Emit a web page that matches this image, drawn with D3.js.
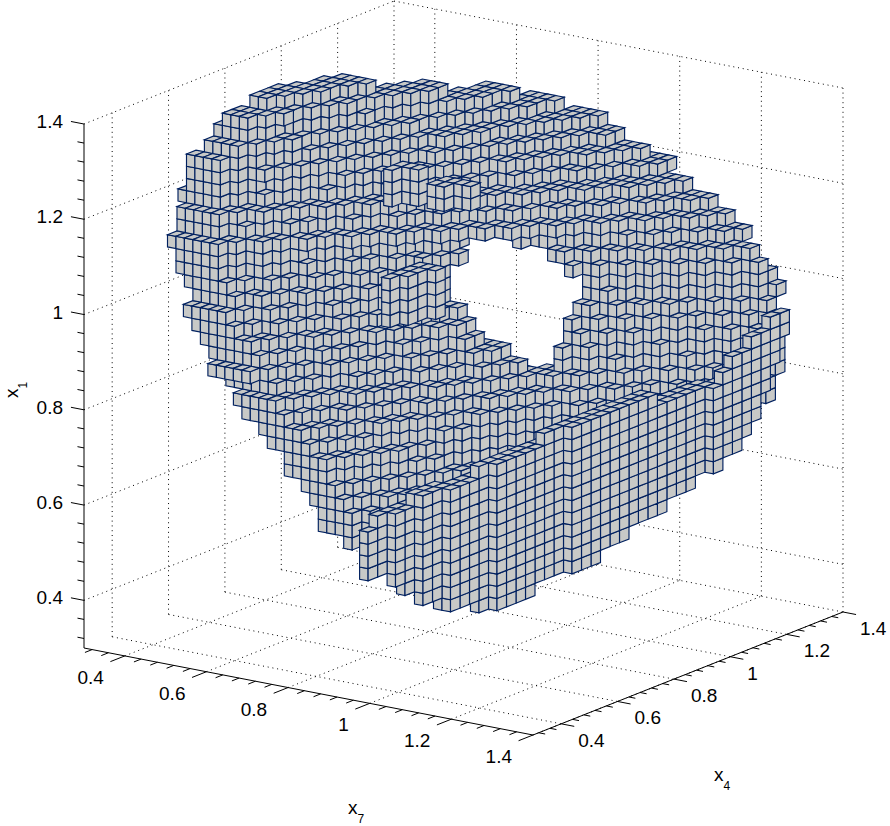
<!DOCTYPE html>
<html><head><meta charset="utf-8">
<style>html,body{margin:0;padding:0;background:#fff}svg{display:block}text{font-family:"Liberation Sans",Arial,sans-serif;fill:#000}</style>
<script src="https://cdn.jsdelivr.net/npm/d3@7"></script></head><body><div id="c"></div>
<script>
// axis ranges and ticks
const axisRange=[0.3,1.4];
const majorTicks=[0.4,0.6,0.8,1,1.2,1.4];
const minorTicks=[0.32,0.36,0.44,0.48,0.52,0.56,0.64,0.68,0.72,0.76,0.84,0.88,0.92,0.96,1.04,1.08,1.12,1.16,1.24,1.28,1.32,1.36];
const tickLabels=["0.4","0.6","0.8","1","1.2","1.4"];
// contour reading units along x7 and x4, voxel size along x7, x4, x1
const readX7=0.0147, readX4=0.0355;
const cellX7=0.0208, cellX4=0.0337, cellX1=0.0256;
// surface contours read per x1 layer: pairs [x7 reading, x4 reading]
const traceLayers=[41,40,39,38,37,36,35,34,33,32,31,30,29,28,27,26,25,24,23,22,21,20,19,18,17,16,15,14,13,12,11,10,
  30,29,28,27, 37,36, 38,37,36];
const traceArcs=[
[[[7.5,12],[15.7,18.4]]],
[[[5.5,10.9],[8.5,10.9],[21.7,22]]],
[[[4.8,10.5],[7.8,10.5],[26.5,25.4]]],
[[[4.8,9.3],[7.8,9.3],[31.1,27.4]]],
[[[2.9,8.7],[6.9,8.7],[37,28.4]]],
[[[3.1,8.6],[7.1,8.6],[39.9,28.5]]],
[[[2.3,8.4],[6.3,8.4],[44.1,28.8]]],
[[[1.7,8.1],[5.7,8.1],[47.2,29]]],
[[[3.1,7.5],[7.1,7.5],[51.4,28.5]]],
[[[2.9,7.3],[6.9,7.3],[54.7,28.5]]],
[[[3.5,6.7],[8.5,6.7],[57.4,28.1]]],
[[[4,6.7],[9,6.7],[31.4,17.7]],[[37.9,20],[60.3,28.2]]],
[[[4,6.7],[9,6.7],[32.5,17.1]],[[41.8,20.6],[63.3,27.6]]],
[[[5,6.4],[10,6.4],[31.3,16.3]],[[45,21.3],[64.7,27.9]]],
[[[6.9,6.2],[11.9,6.2],[31.5,15.9]],[[46.9,21.6],[65.7,28.2]]],
[[[7.6,6.1],[12.6,6.1],[31.8,15.7]],[[46.9,21.5],[65.9,28.1]]],
[[[9,6.1],[14,6.1],[33.4,15.7]],[[47.1,21.1],[66.6,27.8]]],
[[[10.5,5.6],[15.5,5.6],[35.7,15.8]],[[47,20.3],[68.1,28]]],
[[[12,5.6],[17,5.6],[37.3,16]],[[46.7,19.8],[68.3,27.9]]],
[[[13.1,5.2],[18.1,5.2],[40,16.9]],[[46.2,19.2],[67.4,27.6]]],
[[[14.4,5.4],[19.4,5.4],[42.2,17.3]],[[46.4,19.1],[67.6,27.5]]],
[[[17.2,5],[22.2,5],[45,17.6],[67.9,27.4]]],
[[[18.6,5.1],[23.6,5.1],[47.1,17.4],[67.3,27]]],
[[[21.1,4.7],[26.1,4.7],[49.3,18],[67.5,26.9]]],
[[[22.5,4.9],[27.5,4.9],[57.9,22.9]]],
[[[25.2,4.5],[30.2,4.5],[48.9,18.2]]],
[[[26,4.5],[31,4.5],[47.5,17.2]]],
[[[27.8,4.9],[32.8,4.9],[45.8,14.1]]],
[[[29.8,4.7],[33.8,4.7],[43.2,10.7]]],
[[[30.5,4.5],[34.5,4.5],[42.3,10.2]]],
[[[30.7,4.4],[34.7,4.4],[39.2,8.1]]],
[[[35.8,5.1],[38.9,7.3]]],
// raised blocks on the front surface
[[[35.4,9],[37.6,11.5]]],[[[35.4,9],[37.6,11.5]]],[[[35.4,9],[37.6,11.5]]],[[[35.4,9],[37.6,11.5]]],
[[[37.6,11.3],[42.4,12.6]]],[[[37.6,11.3],[42.4,12.6]]],
[[[32.8,10.9],[35.4,11.4]]],[[[32.8,10.9],[35.4,11.4]]],[[[32.8,10.9],[35.4,11.4]]]
];
// front wall of the lower right part: shared contour and per-layer extent
const wallJ=[-12.6,-5.8,0.1,7.6,17,24.5];
const wallI=[65.7,70.6,72.4,73.3,74.3,75.2];
const wallLayers=[26,25,24,23,23,22,21,20,19,18,17,16,15,14,13,12,11];
const wallStart=[23,21,19,2,18,-4,-9,-11,-12,-12,-12,-12,-10.5,-9.5,-8.5,-7,-4];
const wallEnd=[24,24,23,11,23,22,22,21,21,20,19,17,15,12,9,5.5,0];

const W=890,H=826;
const svg=d3.select("#c").append("svg").attr("width",W).attr("height",H);
// projection built from linear scales
const sx7=d3.scaleLinear(axisRange,[0,449]), sy7=d3.scaleLinear(axisRange,[0,87]);
const sx4=d3.scaleLinear(axisRange,[0,310]), sy4=d3.scaleLinear(axisRange,[0,-123]);
const sz=d3.scaleLinear(axisRange,[0,-524]);
const P=(a,b,c)=>[84+sx7(a)+sx4(b),648+sy7(a)+sy4(b)+sz(c)];
const L=axisRange[0],U=axisRange[1];
const line=(g,A,B,cls)=>g.append("line").attr("x1",A[0]).attr("y1",A[1]).attr("x2",B[0]).attr("y2",B[1]).attr("stroke","#000").attr("stroke-width",1).attr("stroke-dasharray",cls?"1 3.8":null);

// grid
const grid=svg.append("g");
majorTicks.forEach(t=>{
  line(grid,P(L,L,t),P(L,U,t),1);
  line(grid,P(L,U,t),P(U,U,t),1);
  line(grid,P(L,t,L),P(L,t,U),1);
  line(grid,P(L,t,L),P(U,t,L),1);
  line(grid,P(t,U,L),P(t,U,U),1);
  line(grid,P(t,L,L),P(t,U,L),1);
});

// voxels
const ri=readX7/cellX7, rj=readX4/cellX4;
const cells=new Map();
const key=(i,j,k)=>i+","+j+","+k;
function addCell(i,j,k){cells.set(key(i,j,k),[i,j,k]);}
function walk(reading,k,depth){
  const anchors=reading.map(p=>[p[0]*ri,p[1]*rj]);
  const minI=Math.round(anchors[0][0]);
  let pi=null,pj=null;
  const put=(i,j)=>{for(let a=0;a<=depth;a++){if(i-a>=minI)addCell(i-a,j,k);}};
  d3.pairs(anchors).forEach(([A,B])=>{
    const n=Math.max(1,Math.ceil(Math.max(Math.abs(B[0]-A[0]),Math.abs(B[1]-A[1]))*3));
    d3.range(n+1).forEach(s=>{
      const i=Math.round(A[0]+(B[0]-A[0])*s/n), j=Math.round(A[1]+(B[1]-A[1])*s/n);
      if(pi!==null&&i!==pi&&j!==pj)put(pi,j);
      put(i,j);pi=i;pj=j;
    });
  });
}
traceLayers.forEach((k,r)=>traceArcs[r].forEach(arc=>walk(arc,k,2)));
const wallScale=d3.scaleLinear(wallJ,wallI);
wallLayers.forEach((k,r)=>{
  const js=d3.range(wallStart[r],wallEnd[r]+0.01,0.5);
  walk(js.map(j=>[wallScale(j),j]),k,1);
});
const list=[...cells.values()].sort((a,b)=>(a[0]-1.01*a[1]+1.03*a[2])-(b[0]-1.01*b[1]+1.03*b[2]));
const V=(i,j,k)=>P(L+i*cellX7,L+j*cellX4,L+k*cellX1);
const poly=pts=>"M"+pts.map(p=>p[0].toFixed(1)+","+p[1].toFixed(1)).join("L")+"Z";
const faces=[];
list.forEach(([i,j,k])=>{
  if(!cells.has(key(i,j-1,k)))faces.push(poly([V(i,j,k+1),V(i+1,j,k+1),V(i+1,j,k),V(i,j,k)]));
  if(!cells.has(key(i+1,j,k)))faces.push(poly([V(i+1,j,k+1),V(i+1,j+1,k+1),V(i+1,j+1,k),V(i+1,j,k)]));
  if(!cells.has(key(i,j,k+1)))faces.push(poly([V(i,j,k+1),V(i,j+1,k+1),V(i+1,j+1,k+1),V(i+1,j,k+1)]));
});
svg.append("g").selectAll("path").data(faces).join("path").attr("d",d=>d)
  .attr("fill","#c8c9c7").attr("stroke","#00205f").attr("stroke-width",1.15).attr("stroke-linejoin","miter");

// axes
const ax=svg.append("g");
line(ax,P(L,L,L),P(L,L,U));line(ax,P(L,L,L),P(U,L,L));line(ax,P(U,L,L),P(U,U,L));
const tick=(t,len)=>{
  line(ax,P(L,L,t),P(L-len,L,t));
  line(ax,P(t,L,L),P(t,L-len*1.6,L));
  line(ax,P(U,t,L),P(U+len,t,L));
};
majorTicks.forEach(t=>tick(t,0.032));
minorTicks.forEach(t=>tick(t,0.016));
const fs=19;
majorTicks.forEach((t,n)=>{
  let p=P(L,L,t);
  ax.append("text").attr("x",63).attr("y",p[1]+4).attr("text-anchor","end").attr("font-size",fs).text(tickLabels[n]);
  p=P(t,L,L);
  ax.append("text").attr("x",p[0]-21).attr("y",p[1]+28).attr("text-anchor","end").attr("font-size",fs).text(tickLabels[n]);
  p=P(U,t,L);
  ax.append("text").attr("x",p[0]+17).attr("y",p[1]+23).attr("text-anchor","start").attr("font-size",fs).text(tickLabels[n]);
});
const axisLabel=(g,x,y,main,sub)=>{
  const t=g.append("text").attr("x",x).attr("y",y).attr("font-size",19);
  t.append("tspan").text(main);
  t.append("tspan").attr("font-size",12).attr("dy",9).text(sub);
};
axisLabel(ax,348,814,"x","7");
axisLabel(ax,714,781,"x","4");
const r=ax.append("g").attr("transform","translate(18,398) rotate(-90)");
axisLabel(r,0,0,"x","1");
</script></body></html>
